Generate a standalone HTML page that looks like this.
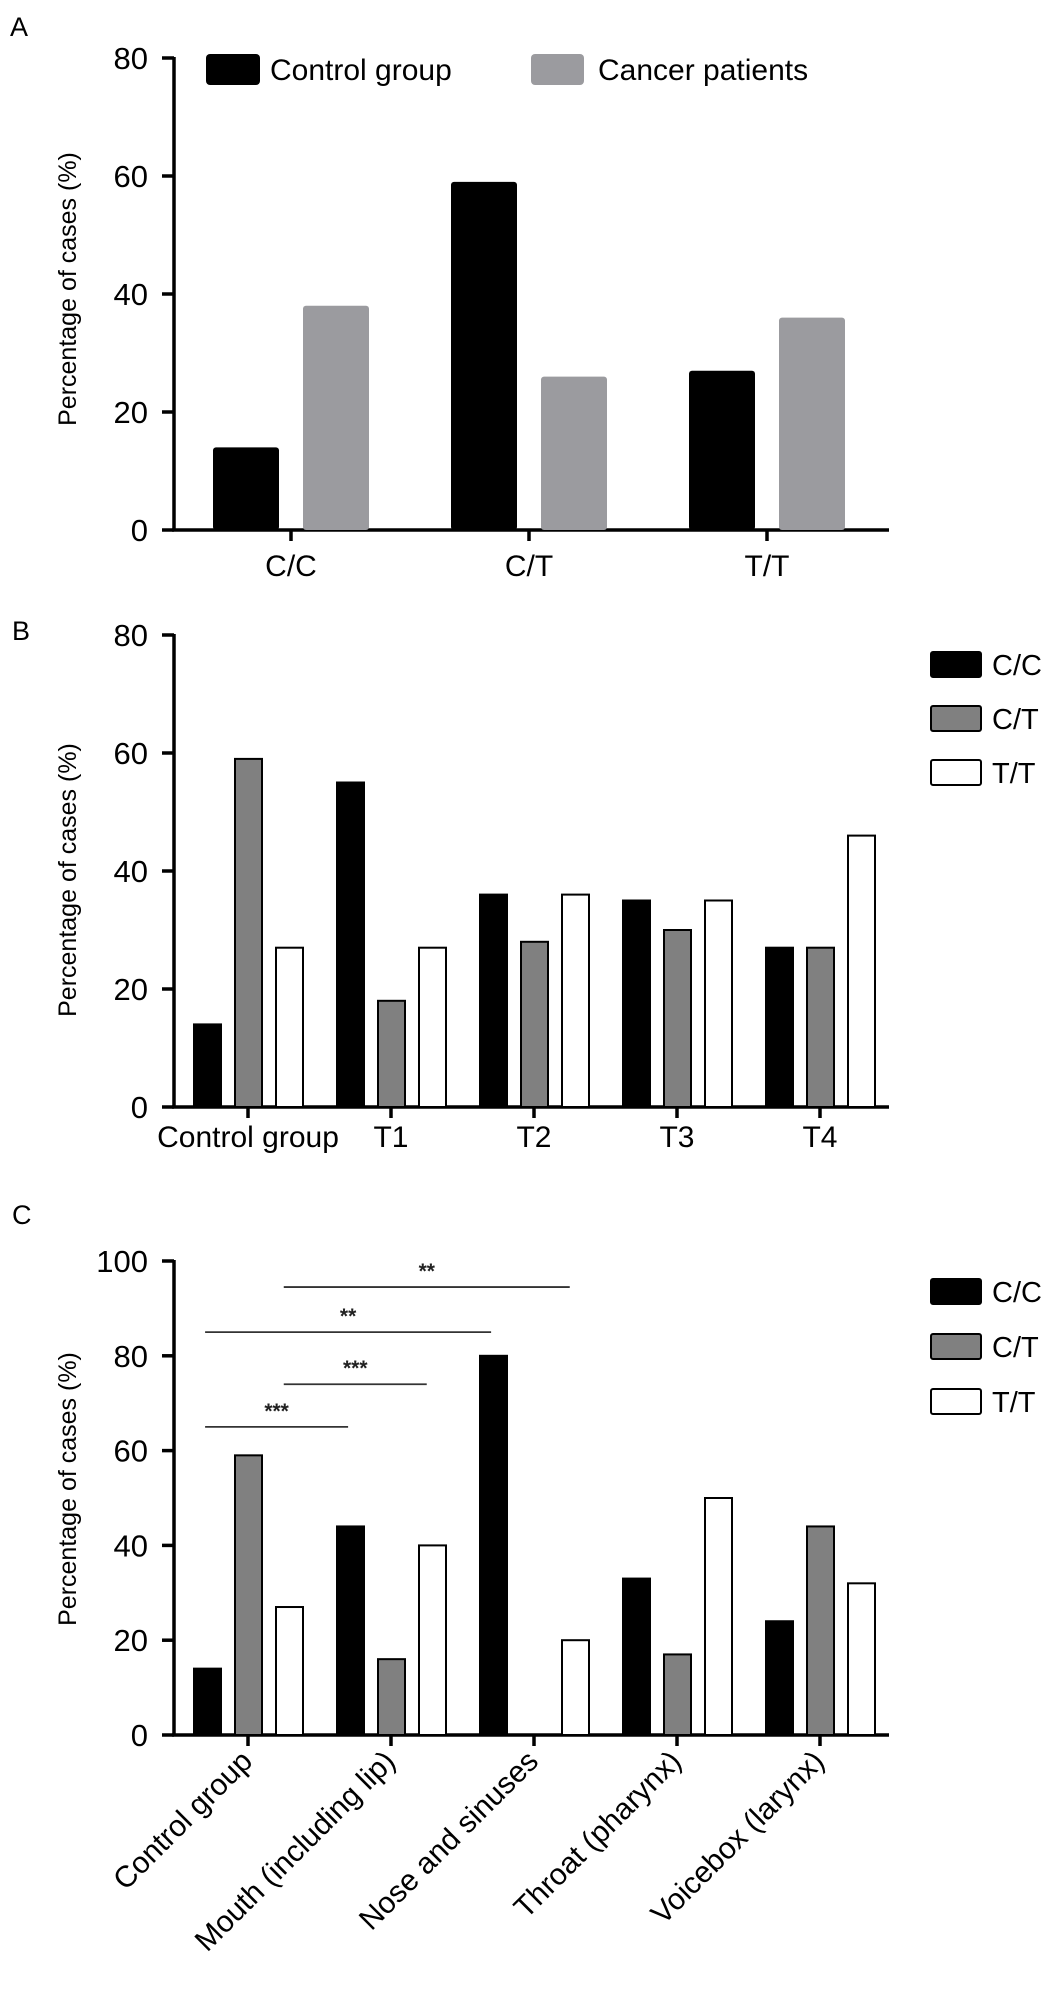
<!DOCTYPE html>
<html><head><meta charset="utf-8"><style>
html,body{margin:0;padding:0;background:#fff;}
svg{display:block;font-family:"Liberation Sans",Arial,sans-serif;}
</style></head><body>
<svg id="fig" width="1063" height="2003" viewBox="0 0 1063 2003" xmlns="http://www.w3.org/2000/svg">
<text x="10" y="36" font-size="27">A</text>
<text x="12" y="640" font-size="27">B</text>
<text x="12" y="1224" font-size="27">C</text>
<g id="pa"></g>
<g id="pb"></g>
<g id="pc"></g>
</svg>
<script>
// Panel A data
const aCategories = ["C/C","C/T","T/T"];
const aControl = [14,59,27];
const aCancer = [38,26,36];
const aTicks = [0,20,40,60,80];
// Panel B data
const bCategories = ["Control group","T1","T2","T3","T4"];
const bCC = [14,55,36,35,27];
const bCT = [59,18,28,30,27];
const bTT = [27,27,36,35,46];
const bTicks = [0,20,40,60,80];
// Panel C data
const cCategories = ["Control group","Mouth (including lip)","Nose and sinuses","Throat (pharynx)","Voicebox (larynx)"];
const cCC = [14,44,80,33,24];
const cCT = [59,16,0,17,44];
const cTT = [27,40,20,50,32];
const cTicks = [0,20,40,60,80,100];
const cSigLabels = ["**","**","***","***"];
const cSigFrom = [0.25,-0.3,0.25,-0.3];
const cSigTo = [2.25,1.7,1.25,0.7];
const cSigLevel = [94.5,85,74,65];

const NS="http://www.w3.org/2000/svg";
function el(parent,tag,attrs,text){const e=document.createElementNS(NS,tag);for(const k in attrs)e.setAttribute(k,attrs[k]);if(text!==undefined)e.textContent=text;parent.appendChild(e);return e;}
const AX=174;

function axisY(g,yTop,yBot,max,ticks,titleY){
  const y=v=>yBot-(v/max)*(yBot-yTop);
  const ax=el(g,'line',{x1:AX,y1:yTop-1,x2:AX,y2:yBot+1,stroke:'#000','stroke-width':3.5});
  
  
  ticks.forEach(t=>{
    const tk=el(g,'line',{x1:AX-12,y1:y(t),x2:AX,y2:y(t),stroke:'#000','stroke-width':3.5});
    
    
    const tl=el(g,'text',{x:AX-26,y:y(t)+11,'font-size':31,'text-anchor':'end'},String(t));
    
    
  });
  const tt=el(g,'text',{x:0,y:0,'font-size':25,'text-anchor':'middle',transform:`translate(76,${titleY}) rotate(-90)`},'Percentage of cases (%)');
  
  
  return y;
}

// Panel A
(function(){
  const g=document.getElementById('pa');
  const y=axisY(g,58,530,80,aTicks,289);
  const xa=el(g,'line',{x1:AX-2,y1:530,x2:889,y2:530,stroke:'#000','stroke-width':3.5});
  
  
  const xc=i=>291+i*238;
  aCategories.forEach((c,i)=>{
    const cx=xc(i);
    const b1=el(g,'rect',{x:cx-78,y:y(aControl[i]),width:66,height:y(0)-y(aControl[i]),fill:'#000',rx:3});
    
    
    const b2=el(g,'rect',{x:cx+12,y:y(aCancer[i]),width:66,height:y(0)-y(aCancer[i]),fill:'#9b9b9f',rx:3});
    
    
    const tk=el(g,'line',{x1:cx,y1:530,x2:cx,y2:541,stroke:'#000','stroke-width':3.5});
    
    
    const tl=el(g,'text',{x:cx,y:576,'font-size':30,'text-anchor':'middle'},c);
    
    
  });
  const l1=el(g,'rect',{x:206,y:54,width:54,height:31,fill:'#000',rx:4});
  
  
  const t1=el(g,'text',{x:270,y:80,'font-size':30},'Control group');
  
  
  const l2=el(g,'rect',{x:531,y:54,width:53,height:31,fill:'#9b9b9f',rx:4});
  
  
  const t2=el(g,'text',{x:598,y:80,'font-size':30},'Cancer patients');
  
  
})();

const xcB=i=>248+i*143;

function grouped(g,yTop,yBot,max,ticks,titleY,cats,s1,s2,s3,legendYs,rotLabels){
  const y=axisY(g,yTop,yBot,max,ticks,titleY);
  const xa=el(g,'line',{x1:AX-2,y1:yBot,x2:889,y2:yBot,stroke:'#000','stroke-width':3.5});
  
  
  const fills=['#000','#808080','#fff'];
  const series=[s1,s2,s3];
  const names=['cc','ct','tt'];
  cats.forEach((c,i)=>{
    const cx=xcB(i);
    series.forEach((s,j)=>{
      const v=s[i];
      const b=el(g,'rect',{x:cx-54+j*41,y:y(v),width:27,height:y(0)-y(v),fill:fills[j],stroke:'#000','stroke-width':2});
      
      
    });
    const tk=el(g,'line',{x1:cx,y1:yBot,x2:cx,y2:yBot+11,stroke:'#000','stroke-width':3.5});
    
    
    let tl;
    if(rotLabels){
      tl=el(g,'text',{x:0,y:0,'font-size':30,'text-anchor':'end',transform:`translate(${cx+6},${yBot+28}) rotate(-45)`},c);
    } else {
      tl=el(g,'text',{x:cx,y:yBot+40,'font-size':30,'text-anchor':'middle'},c);
    }
    
    
  });
  ['C/C','C/T','T/T'].forEach((n,j)=>{
    const r=el(g,'rect',{x:931,y:legendYs[j],width:50,height:25,fill:fills[j],stroke:'#000','stroke-width':2,rx:2});
    
    
    const t=el(g,'text',{x:992,y:legendYs[j]+23,'font-size':29},n);
    
    
  });
  return y;
}

// Panel B
(function(){
  const g=document.getElementById('pb');
  grouped(g,635,1107,80,bTicks,880,bCategories,bCC,bCT,bTT,[652,706,760],false);
})();

// Panel C
(function(){
  const g=document.getElementById('pc');
  const y=grouped(g,1261,1735,100,cTicks,1489,cCategories,cCC,cCT,cTT,[1279,1334,1389],true);
  cSigLabels.forEach((lab,k)=>{
    const x1=xcB(cSigFrom[k]), x2=xcB(cSigTo[k]);
    const yy=y(cSigLevel[k]);
    const ln=el(g,'line',{x1:x1,y1:yy,x2:x2,y2:yy,stroke:'#333','stroke-width':1.8});
    
    
    const t=el(g,'text',{x:(x1+x2)/2,y:yy-9,'font-size':21,'text-anchor':'middle','font-weight':'bold',fill:'#222'},lab);
    
    
  });
})();
</script>
</body></html>
